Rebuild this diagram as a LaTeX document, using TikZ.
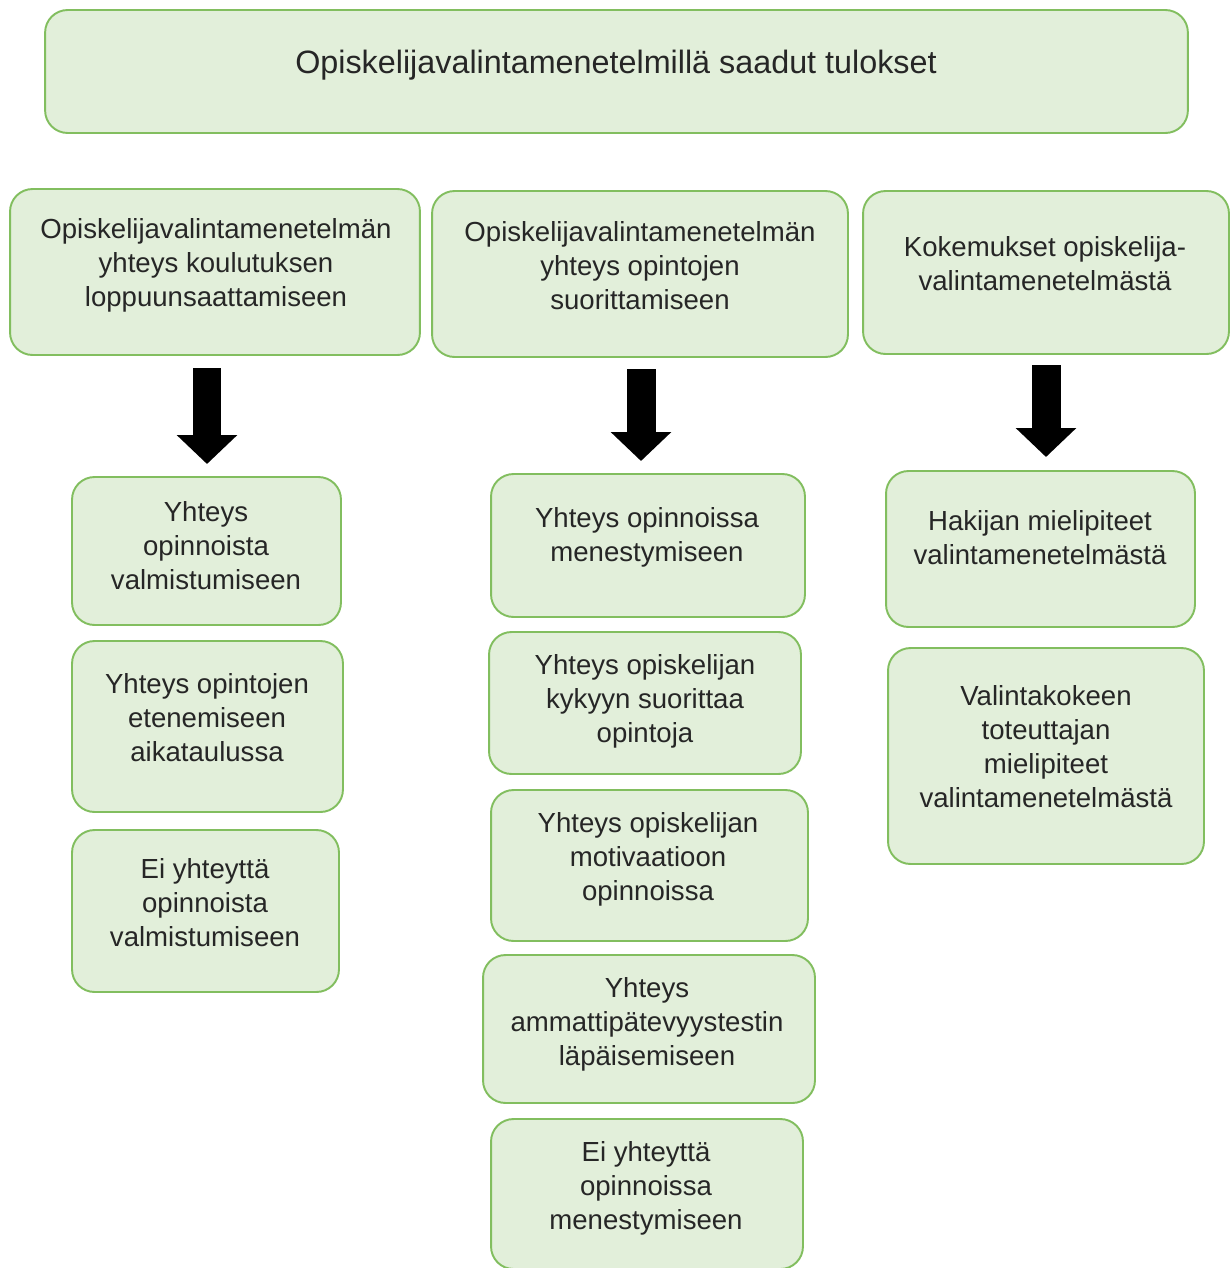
\documentclass[tikz,border=0pt]{standalone}
\usepackage{fontspec}
\setmainfont{Liberation Sans}
\usetikzlibrary{arrows.meta}

\definecolor{boxfill}{RGB}{226,239,218}
\definecolor{boxline}{RGB}{130,190,95}

\tikzset{
  box/.style={draw=boxline, fill=boxfill, line width=1.1pt, rounded corners=0.45cm, inner sep=0pt},
  txt/.style={align=center, text=black!85, inner sep=0pt, font=\fontsize{15.7}{19.4}\selectfont},
  title/.style={txt, font=\fontsize{18.4}{22}\selectfont},
  bigarrow/.style={line width=0.58cm, -{Triangle[width=1.18cm,length=0.58cm]}}
}

\begin{document}
\begin{tikzpicture}[x=0.02cm, y=-0.02cm]
\useasboundingbox (0,0) rectangle (1230,1268);

% otsikko
\node[box, minimum width=22.86cm, minimum height=2.46cm] (top) at (616.5,71.5) {};
\node[title] (topt) at (616,65) {Opiskelijavalintamenetelmillä saadut tulokset};

% sarakkeiden otsikot
\node[box, minimum width=8.2cm, minimum height=3.32cm] (l1) at (215,272) {};
\node[txt] (l1t) at (216,265) {Opiskelijavalintamenetelmän\\yhteys koulutuksen\\loppuunsaattamiseen};
\node[box, minimum width=8.32cm, minimum height=3.32cm] (m1) at (640,274) {};
\node[txt] (m1t) at (640,266) {Opiskelijavalintamenetelmän\\yhteys opintojen\\suorittamiseen};
\node[box, minimum width=7.32cm, minimum height=3.26cm] (r1) at (1046,272.5) {};
\node[txt] (r1t) at (1045,264) {Kokemukset opiskelija-\\valintamenetelmästä};

% nuolet
\coordinate (a1) at (207,368);
\coordinate (b1) at (207,464);
\coordinate (a2) at (641,369);
\coordinate (b2) at (641,461);
\coordinate (a3) at (1046,365);
\coordinate (b3) at (1046,457);
\draw[bigarrow] (a1) -- (b1);
\draw[bigarrow] (a2) -- (b2);
\draw[bigarrow] (a3) -- (b3);

% vasen sarake
\node[box, minimum width=5.38cm, minimum height=2.96cm] (l2) at (206.5,551) {};
\node[txt] (l2t) at (206,546) {Yhteys\\opinnoista\\valmistumiseen};
\node[box, minimum width=5.42cm, minimum height=3.42cm] (l3) at (207.5,726.5) {};
\node[txt] (l3t) at (207,718) {Yhteys opintojen\\etenemiseen\\aikataulussa};
\node[box, minimum width=5.34cm, minimum height=3.24cm] (l4) at (205.5,911) {};
\node[txt] (l4t) at (205,903) {Ei yhteyttä\\opinnoista\\valmistumiseen};

% keskisarake
\node[box, minimum width=6.28cm, minimum height=2.86cm] (m2) at (648,545.5) {};
\node[txt] (m2t) at (647,537) {Yhteys opinnoissa\\menestymiseen};
\node[box, minimum width=6.24cm, minimum height=2.84cm] (m3) at (645,703) {};
\node[txt] (m3t) at (645,701) {Yhteys opiskelijan\\kykyyn suorittaa\\opintoja};
\node[box, minimum width=6.34cm, minimum height=3.02cm] (m4) at (649.5,865.5) {};
\node[txt] (m4t) at (648,859) {Yhteys opiskelijan\\motivaatioon\\opinnoissa};
\node[box, minimum width=6.64cm, minimum height=2.96cm] (m5) at (649,1029) {};
\node[txt] (m5t) at (647,1024) {Yhteys\\ammattipätevyystestin\\läpäisemiseen};
\node[box, minimum width=6.24cm, minimum height=3.0cm] (m6) at (647,1194) {};
\node[txt] (m6t) at (646,1188) {Ei yhteyttä\\opinnoissa\\menestymiseen};

% oikea sarake
\node[box, minimum width=6.18cm, minimum height=3.12cm] (r2) at (1040.5,549) {};
\node[txt] (r2t) at (1040,538) {Hakijan mielipiteet\\valintamenetelmästä};
\node[box, minimum width=6.32cm, minimum height=4.32cm] (r3) at (1046,756) {};
\node[txt] (r3t) at (1046,747) {Valintakokeen\\toteuttajan\\mielipiteet\\valintamenetelmästä};
\end{tikzpicture}
\end{document}
